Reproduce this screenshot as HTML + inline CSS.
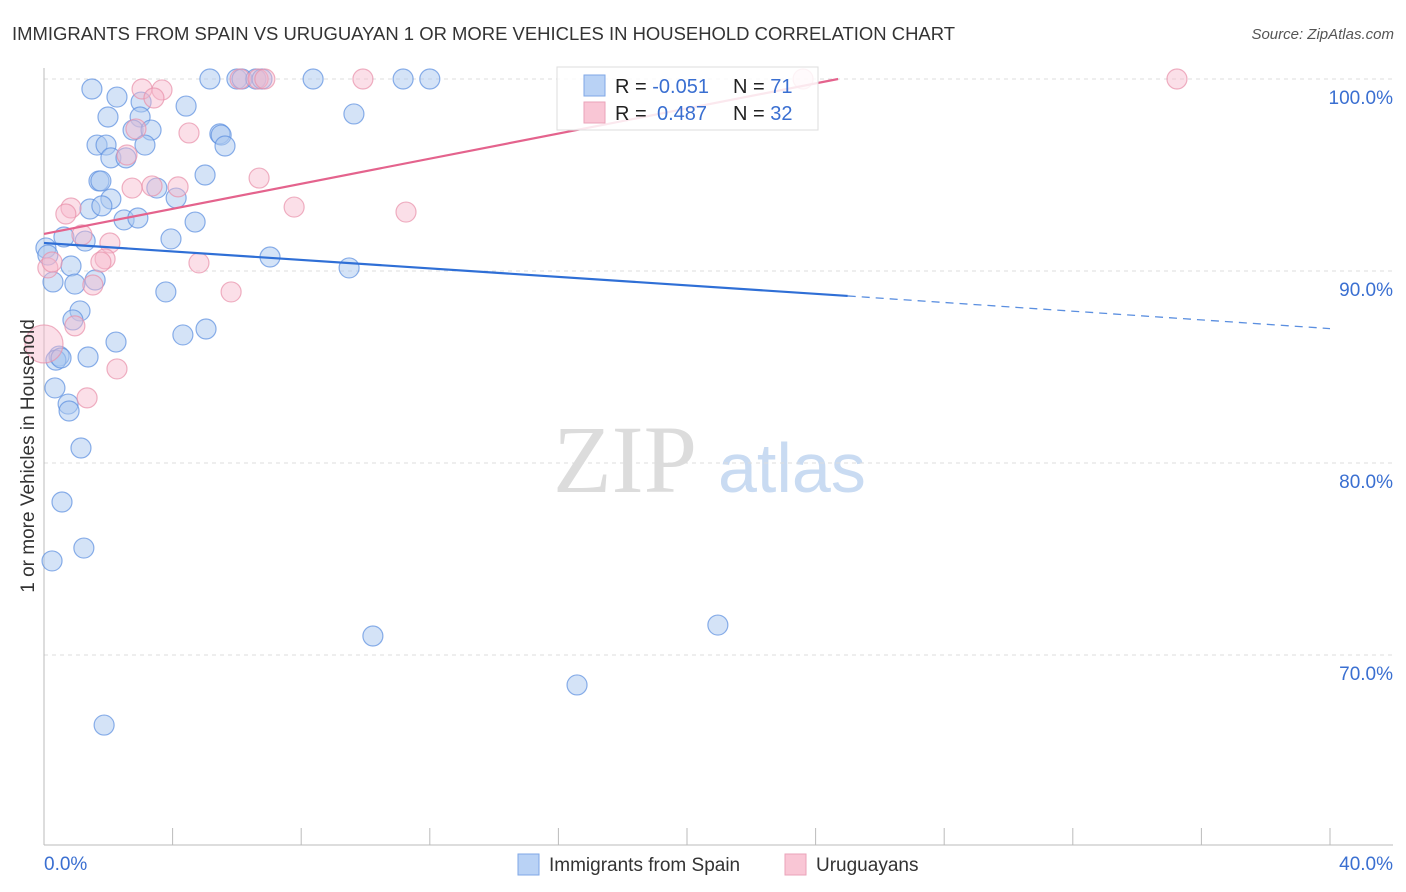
<!DOCTYPE html>
<html><head><meta charset="utf-8">
<style>
body{margin:0;background:#fff;font-family:"Liberation Sans",sans-serif;}
svg{display:block}
</style></head>
<body>
<svg id="chart" width="1406" height="892">
<text x="12" y="40" font-size="18" fill="#333" textLength="943" lengthAdjust="spacingAndGlyphs">IMMIGRANTS FROM SPAIN VS URUGUAYAN 1 OR MORE VEHICLES IN HOUSEHOLD CORRELATION CHART</text>
<text x="1394" y="39" font-size="15" fill="#555" font-style="italic" text-anchor="end">Source: ZipAtlas.com</text>
<g>
<text x="553" y="492" font-size="96" fill="#dcdcdc" font-family="Liberation Serif,serif">ZIP</text>
<text x="718" y="492" font-size="70" fill="#c9dbf2">atlas</text>
</g>
<g id="grid"></g>
<g id="axes"></g>
<g id="marks"></g>
<g id="trends"></g>
<text transform="translate(34,456) rotate(-90)" font-size="19" fill="#333" text-anchor="middle">1 or more Vehicles in Household</text>
<g>
<rect x="557" y="67" width="261" height="63" fill="#fff" fill-opacity="0.85" stroke="#ddd"/>
<rect x="584" y="75" width="21" height="21" fill="#b9d2f5" stroke="#7fa7e6"/>
<rect x="584" y="102" width="21" height="21" fill="#f9c6d5" stroke="#eaa3b9"/>
<text x="615" y="93" font-size="20" fill="#222">R = <tspan fill="#3a6fd1">-0.051</tspan><tspan x="733">N = </tspan><tspan fill="#3a6fd1">71</tspan></text>
<text x="615" y="120" font-size="20" fill="#222">R = <tspan fill="#3a6fd1" x="657">0.487</tspan><tspan x="733">N = </tspan><tspan fill="#3a6fd1">32</tspan></text>
</g>
<g>
<rect x="518" y="854" width="21" height="21" fill="#b9d2f5" stroke="#7fa7e6"/>
<text x="549" y="871" font-size="19" fill="#333">Immigrants from Spain</text>
<rect x="785" y="854" width="21" height="21" fill="#f9c6d5" stroke="#eaa3b9"/>
<text x="816" y="871" font-size="19" fill="#333">Uruguayans</text>
</g>
</svg>
<script>
const blueX=[5.16,6.0,6.16,6.59,6.78,8.37,11.17,12.0,1.49,2.27,3.02,4.42,1.99,2.99,9.64,2.77,3.33,5.47,5.51,5.63,1.65,1.93,3.14,2.08,2.55,1.71,1.77,5.01,2.08,3.51,4.11,1.43,1.80,2.49,2.92,4.70,0.62,1.28,3.95,0.06,0.12,7.03,9.49,0.84,0.28,0.96,1.59,3.79,1.12,0.90,5.04,4.32,2.24,0.47,0.37,0.53,1.37,0.34,0.75,0.78,1.15,0.56,1.24,0.25,10.23,20.96,16.58,1.87];
const blueY=[100,100,100,100,100,100,100,100,99.48,99.06,98.8,98.59,98.02,98.02,98.18,97.34,97.34,97.14,97.08,96.51,96.56,96.56,96.56,95.89,95.89,94.69,94.69,95.0,93.75,94.32,93.8,93.23,93.39,92.66,92.76,92.55,91.77,91.56,91.67,91.2,90.83,90.73,90.16,90.26,89.43,89.32,89.53,88.91,87.92,87.45,86.98,86.67,86.3,85.57,85.36,85.47,85.52,83.91,83.07,82.71,80.78,77.97,75.57,74.9,70.99,71.56,68.44,66.35];
const pinkX=[6.1,6.66,6.87,9.92,23.61,35.24,3.05,3.67,3.42,2.86,4.51,2.58,6.69,2.74,3.36,4.17,7.78,11.26,0.84,0.68,1.18,2.05,1.9,1.77,4.82,5.82,1.52,0.12,0.25,0.96,2.27,1.34,0.0];
const pinkY=[100,100,100,100,100,100,99.48,99.43,99.01,97.4,97.19,96.04,94.84,94.32,94.43,94.38,93.33,93.07,93.28,92.97,91.88,91.46,90.63,90.47,90.42,88.91,89.27,90.16,90.47,87.14,84.9,83.39,86.2];
const pinkR=[10,10,10,10,10,10,10,10,10,10,10,10,10,10,10,10,10,10,10,10,10,10,10,10,10,10,10,10,10,10,10,10,19];
const yTicks=[100,90,80,70];
const xTickVals=[0,4,8,12,16,20,24,28,32,36,40];
const blueTrend=[[0,91.46],[25,88.70],[40,87.0]];
const pinkTrend=[[0,91.93],[24.7,100]];

const NS='http://www.w3.org/2000/svg';
const X=v=>44+v*32.15;
const Y=v=>79+(100-v)*19.2;
function mk(tag,attrs,parent){const e=document.createElementNS(NS,tag);for(const k in attrs)e.setAttribute(k,attrs[k]);document.getElementById(parent).appendChild(e);return e;}

yTicks.forEach(t=>{
  const l=mk('line',{x1:44,x2:1393,y1:Y(t),y2:Y(t),stroke:'#ddd','stroke-dasharray':'4,4'},'grid');
  
  
  const tx=mk('text',{x:1393,y:Y(t)+25,'font-size':19,fill:'#3a6fd1','text-anchor':'end'},'grid');
  tx.textContent=t.toFixed(1)+'%';
  
  
});
const ax=mk('line',{x1:44,x2:1393,y1:845,y2:845,stroke:'#bbb'},'axes');


const ay=mk('line',{x1:44,x2:44,y1:68,y2:845,stroke:'#bbb'},'axes');


xTickVals.forEach(t=>{
  const l=mk('line',{x1:X(t),x2:X(t),y1:828,y2:845,stroke:'#bbb'},'axes');
  
  
});
[[0,'start'],[40,'end']].forEach(([t,a])=>{
  const tx=mk('text',{x:X(t)+(a==='end'?63:0),y:870,'font-size':19,fill:'#3a6fd1','text-anchor':a},'axes');
  tx.textContent=t.toFixed(1)+'%';
  
  
});
blueX.forEach((v,i)=>{
  const c=mk('circle',{cx:X(v),cy:Y(blueY[i]),r:10,fill:'#a9c8f0','fill-opacity':0.5,stroke:'#5b8fe0','stroke-opacity':0.7,'stroke-width':1.2},'marks');
  
  
});
pinkX.forEach((v,i)=>{
  const c=mk('circle',{cx:X(v),cy:Y(pinkY[i]),r:pinkR[i],fill:'#f7b8cb','fill-opacity':0.45,stroke:'#e890aa','stroke-opacity':0.7,'stroke-width':1.2},'marks');
  
  
});
const bs=mk('line',{x1:X(blueTrend[0][0]),y1:Y(blueTrend[0][1]),x2:X(blueTrend[1][0]),y2:Y(blueTrend[1][1]),stroke:'#2f6fd6','stroke-width':2.2},'trends');


const bd=mk('line',{x1:X(blueTrend[1][0]),y1:Y(blueTrend[1][1]),x2:X(blueTrend[2][0]),y2:Y(blueTrend[2][1]),stroke:'#5b8fe0','stroke-width':1.3,'stroke-dasharray':'8,6'},'trends');


const ps=mk('line',{x1:X(pinkTrend[0][0]),y1:Y(pinkTrend[0][1]),x2:X(pinkTrend[1][0]),y2:Y(pinkTrend[1][1]),stroke:'#e4638d','stroke-width':2.2},'trends');


</script>
</body></html>
